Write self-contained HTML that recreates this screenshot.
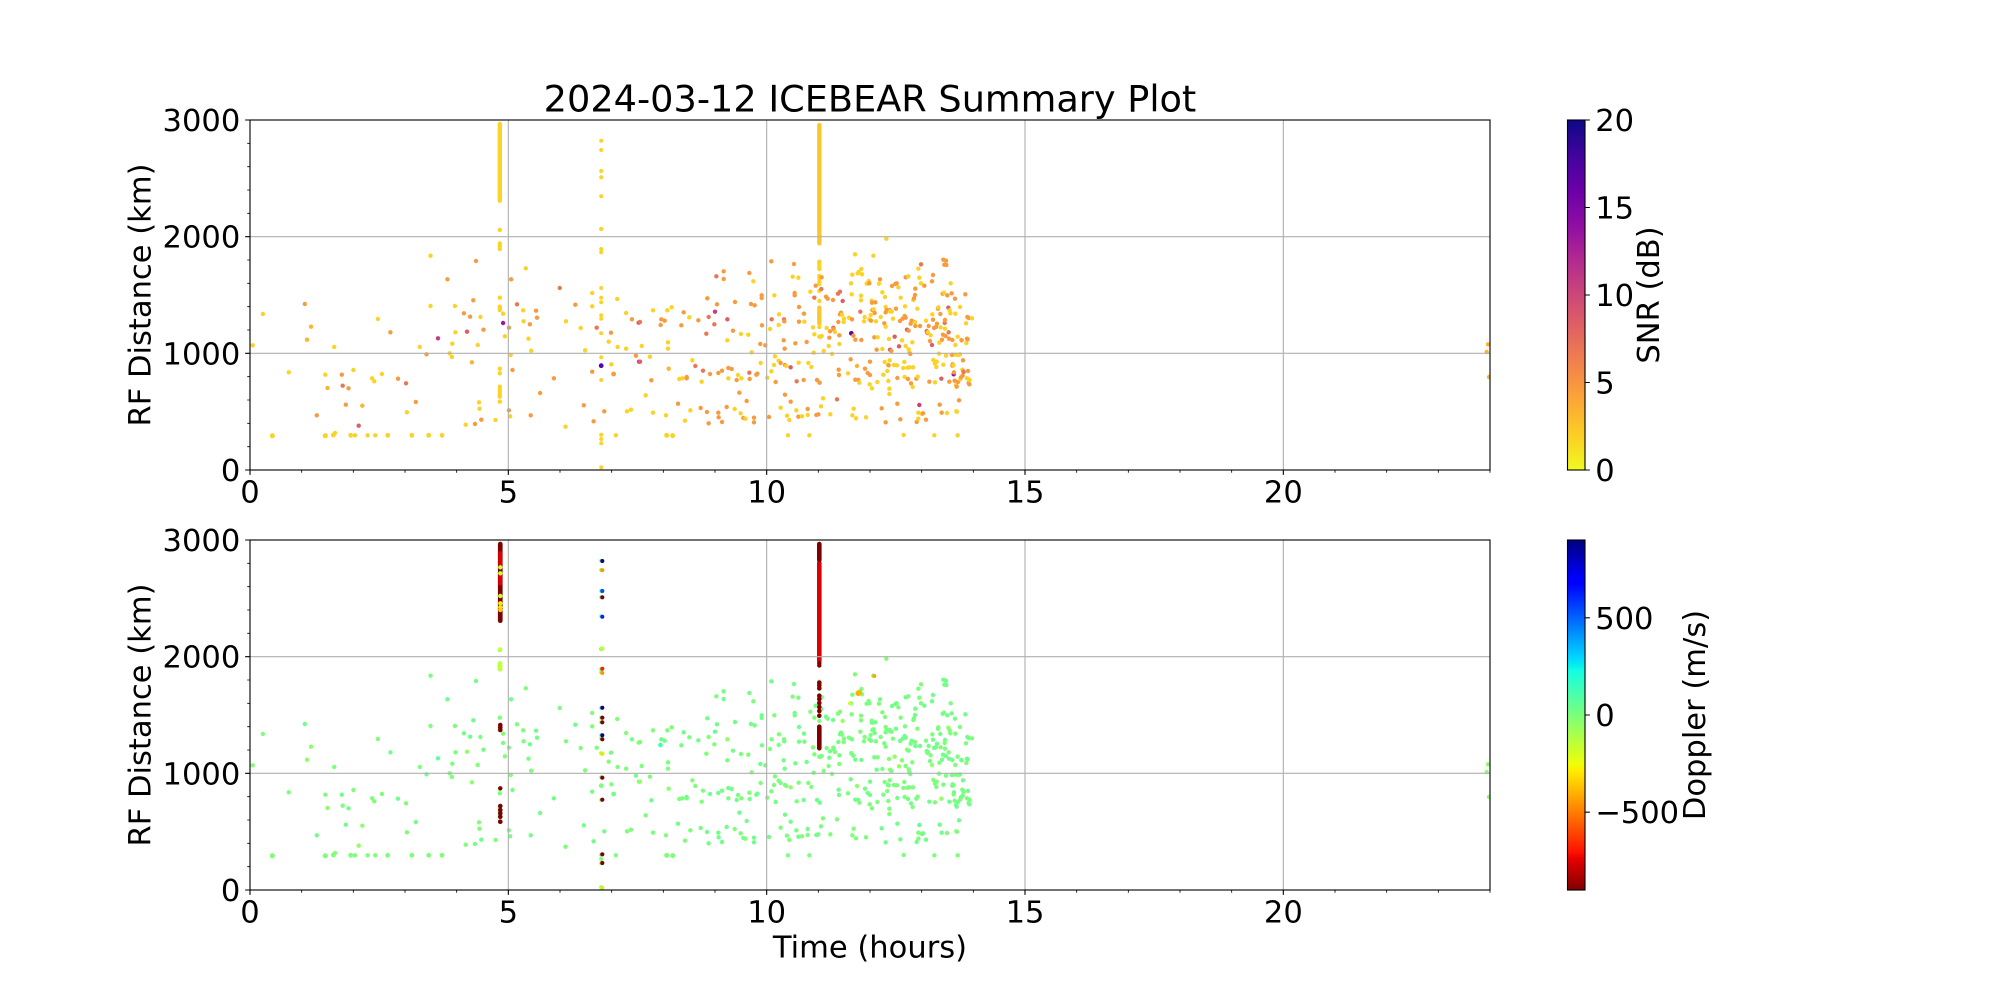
<!DOCTYPE html>
<html><head><meta charset="utf-8">
<style>
html,body{margin:0;padding:0;background:#fff;}
svg{display:block;}
svg text{font-family:"DejaVu Sans","Liberation Sans",sans-serif;fill:#000;}
.a{fill:var(--a)}.b{fill:var(--b)}.c{fill:var(--c)}.d{fill:var(--d)}
.e{fill:var(--e)}.f{fill:var(--f)}.g{fill:var(--g)}.h{fill:var(--h)}
.s{stroke:var(--s)}.t{stroke:var(--t)}
</style></head>
<body>
<svg width="2000" height="1000" viewBox="0 0 2000 1000" xmlns="http://www.w3.org/2000/svg">
<defs>
<clipPath id="c1"><rect x="250" y="120" width="1240" height="350"/></clipPath>
<clipPath id="c2"><rect x="250" y="540" width="1240" height="350"/></clipPath>
<linearGradient id="gp" x1="0" y1="0" x2="0" y2="1">
<stop offset="0" stop-color="#0d0887"/><stop offset="0.1" stop-color="#41049d"/><stop offset="0.2" stop-color="#6a00a8"/><stop offset="0.3" stop-color="#8f0da4"/><stop offset="0.4" stop-color="#b12a90"/><stop offset="0.5" stop-color="#cc4778"/><stop offset="0.6" stop-color="#e16462"/><stop offset="0.7" stop-color="#f2844b"/><stop offset="0.8" stop-color="#fca636"/><stop offset="0.9" stop-color="#fcce25"/><stop offset="1" stop-color="#f0f921"/>
</linearGradient>
<linearGradient id="gj" x1="0" y1="0" x2="0" y2="1">
<stop offset="0" stop-color="#000080"/><stop offset="0.11" stop-color="#0000ff"/><stop offset="0.125" stop-color="#0000ff"/><stop offset="0.34" stop-color="#00dbff"/><stop offset="0.35" stop-color="#00e6f7"/><stop offset="0.375" stop-color="#14ffe2"/><stop offset="0.5" stop-color="#7bff7b"/><stop offset="0.64" stop-color="#eeff08"/><stop offset="0.65" stop-color="#f7f500"/><stop offset="0.66" stop-color="#ffec00"/><stop offset="0.89" stop-color="#ff1300"/><stop offset="0.91" stop-color="#e80000"/><stop offset="1" stop-color="#800000"/>
</linearGradient>
<g id="pts">
<line class="t" x1="499.8" y1="124" x2="499.8" y2="200.7" stroke="#fcd225" stroke-width="4.4" stroke-linecap="round"/>
<circle cx="252.7" cy="345.3" r="2.2" class="a"/>
<circle cx="262.9" cy="314" r="2.2" class="a"/>
<circle cx="272.3" cy="435.7" r="2.6" class="a"/>
<circle cx="288.8" cy="372.3" r="2.2" class="a"/>
<circle cx="304.8" cy="304" r="2.2" class="c"/>
<circle cx="307" cy="339.7" r="2.2" class="b"/>
<circle cx="311" cy="326.7" r="2.2" class="b"/>
<circle cx="316.8" cy="415.3" r="2.2" class="c"/>
<circle cx="325.3" cy="374.7" r="2.2" class="a"/>
<circle cx="325.3" cy="435.7" r="2.6" class="a"/>
<circle cx="327.5" cy="388" r="2.2" class="b"/>
<circle cx="334.2" cy="347" r="2.2" class="a"/>
<circle cx="333.3" cy="435" r="2.4" class="a"/>
<circle cx="335" cy="433" r="2.2" class="a"/>
<circle cx="341.8" cy="374.7" r="2.2" class="c"/>
<circle cx="342.7" cy="385.7" r="2.2" class="d"/>
<circle cx="345.8" cy="404.7" r="2.2" class="c"/>
<circle cx="348.5" cy="388.3" r="2.2" class="c"/>
<circle cx="350.7" cy="435.3" r="2.4" class="a"/>
<circle cx="353.4" cy="370" r="2.2" class="a"/>
<circle cx="355" cy="435.3" r="2.2" class="a"/>
<circle cx="358.7" cy="425.7" r="2.2" class="e"/>
<circle cx="362.3" cy="405.7" r="2.2" class="b"/>
<circle cx="367.6" cy="435.3" r="2.2" class="a"/>
<circle cx="372.1" cy="378.3" r="2.2" class="a"/>
<circle cx="374.3" cy="381.3" r="2.2" class="a"/>
<circle cx="375.3" cy="435.3" r="2.2" class="a"/>
<circle cx="377.9" cy="319" r="2.2" class="a"/>
<circle cx="381.9" cy="374" r="2.2" class="a"/>
<circle cx="387.7" cy="435.3" r="2.4" class="a"/>
<circle cx="390.4" cy="332.3" r="2.2" class="c"/>
<circle cx="398" cy="378.7" r="2.2" class="c"/>
<circle cx="406" cy="383.3" r="2.2" class="d"/>
<circle cx="406.9" cy="412.3" r="2.2" class="a"/>
<circle cx="411.8" cy="435.3" r="2.4" class="a"/>
<circle cx="415.8" cy="402" r="2.2" class="c"/>
<circle cx="419.8" cy="347" r="2.2" class="a"/>
<circle cx="426.5" cy="354.3" r="2.2" class="c"/>
<circle cx="428.7" cy="435.3" r="2.4" class="a"/>
<circle cx="430.5" cy="255.7" r="2.2" class="a"/>
<circle cx="430.5" cy="306" r="2.2" class="a"/>
<circle cx="438" cy="338.3" r="2.2" class="f"/>
<circle cx="442" cy="435.3" r="2.4" class="a"/>
<circle cx="447.4" cy="279.3" r="2.2" class="c"/>
<circle cx="449.6" cy="353.3" r="2.2" class="a"/>
<circle cx="451.9" cy="357" r="2.2" class="a"/>
<circle cx="452.3" cy="343.7" r="2.2" class="a"/>
<circle cx="455" cy="306" r="2.2" class="a"/>
<circle cx="455.4" cy="332.3" r="2.2" class="a"/>
<circle cx="463.9" cy="313.3" r="2.2" class="c"/>
<circle cx="465.7" cy="424.7" r="2.2" class="a"/>
<circle cx="467" cy="331.7" r="2.2" class="e"/>
<circle cx="470.1" cy="316.7" r="2.2" class="c"/>
<circle cx="471.9" cy="362.3" r="2.2" class="b"/>
<circle cx="473.3" cy="300.3" r="2.2" class="c"/>
<circle cx="475" cy="424" r="2.2" class="c"/>
<circle cx="476" cy="261" r="2.2" class="c"/>
<circle cx="477.7" cy="345" r="2.2" class="a"/>
<circle cx="479" cy="402.3" r="2.2" class="a"/>
<circle cx="479.5" cy="408.7" r="2.2" class="a"/>
<circle cx="480.4" cy="317" r="2.2" class="a"/>
<circle cx="481.3" cy="419.7" r="2.2" class="c"/>
<circle cx="483.5" cy="329.7" r="2.2" class="c"/>
<circle cx="495.5" cy="420" r="2.2" class="a"/>
<circle cx="499.8" cy="230" r="2.2" class="a"/>
<circle cx="499.8" cy="243.5" r="2.2" class="a"/>
<circle cx="499.8" cy="246" r="2.2" class="a"/>
<circle cx="499.8" cy="249" r="2.2" class="a"/>
<circle cx="499.8" cy="297.7" r="2.2" class="a"/>
<circle cx="499.8" cy="306.7" r="2.2" class="a"/>
<circle cx="499.8" cy="308.5" r="2.2" class="a"/>
<circle cx="499.8" cy="310" r="2.2" class="a"/>
<circle cx="499.8" cy="368.7" r="2.2" class="a"/>
<circle cx="499.8" cy="373.3" r="2.2" class="a"/>
<circle cx="499.8" cy="386.7" r="2.2" class="a"/>
<circle cx="499.8" cy="389.5" r="2.2" class="a"/>
<circle cx="499.8" cy="392" r="2.2" class="a"/>
<circle cx="499.8" cy="394.5" r="2.2" class="a"/>
<circle cx="499.8" cy="396.7" r="2.2" class="a"/>
<circle cx="499.8" cy="401.7" r="2.2" class="a"/>
<circle cx="503.1" cy="313.7" r="2.2" class="a"/>
<circle cx="503.1" cy="323" r="2.2" class="g"/>
<circle cx="504.9" cy="336.3" r="2.2" class="a"/>
<circle cx="508.9" cy="327.7" r="2.2" class="c"/>
<circle cx="508.9" cy="410.3" r="2.2" class="c"/>
<circle cx="510.2" cy="416.3" r="2.2" class="a"/>
<circle cx="510.7" cy="355" r="2.2" class="a"/>
<circle cx="511.1" cy="279.3" r="2.2" class="c"/>
<circle cx="512.5" cy="370" r="2.2" class="c"/>
<circle cx="517" cy="304.3" r="2.2" class="d"/>
<circle cx="523.2" cy="310.3" r="2.2" class="a"/>
<circle cx="525.8" cy="268.3" r="2.2" class="a"/>
<circle cx="523.6" cy="321.3" r="2.2" class="a"/>
<circle cx="528.5" cy="338.7" r="2.2" class="a"/>
<circle cx="529.9" cy="324.3" r="2.2" class="c"/>
<circle cx="530.7" cy="415.3" r="2.2" class="c"/>
<circle cx="531.2" cy="350.7" r="2.2" class="a"/>
<circle cx="536.1" cy="310.7" r="2.2" class="c"/>
<circle cx="537" cy="317.7" r="2.2" class="c"/>
<circle cx="540.1" cy="393" r="2.2" class="c"/>
<circle cx="553.9" cy="378.3" r="2.2" class="c"/>
<circle cx="559.7" cy="288" r="2.2" class="d"/>
<circle cx="565.5" cy="426.7" r="2.2" class="a"/>
<circle cx="566" cy="321.3" r="2.2" class="a"/>
<circle cx="575.3" cy="304.7" r="2.2" class="c"/>
<circle cx="580.7" cy="328" r="2.2" class="a"/>
<circle cx="583.8" cy="405.3" r="2.2" class="c"/>
<circle cx="585.1" cy="350.3" r="2.2" class="a"/>
<circle cx="592.2" cy="293" r="2.2" class="a"/>
<circle cx="592.2" cy="306.3" r="2.2" class="a"/>
<circle cx="592.2" cy="371.7" r="2.2" class="c"/>
<circle cx="593.6" cy="421.3" r="2.2" class="c"/>
<circle cx="596.7" cy="327.7" r="2.2" class="d"/>
<circle cx="601.2" cy="140.7" r="2" class="a"/>
<circle cx="601.2" cy="150" r="2" class="a"/>
<circle cx="601.2" cy="171" r="2" class="a"/>
<circle cx="601.2" cy="177.3" r="2" class="a"/>
<circle cx="601.2" cy="196.3" r="2" class="a"/>
<circle cx="601.2" cy="229" r="2.2" class="a"/>
<circle cx="601.2" cy="249" r="2" class="a"/>
<circle cx="601.2" cy="252.3" r="2" class="a"/>
<circle cx="601.2" cy="288" r="2" class="a"/>
<circle cx="601.2" cy="297.7" r="2" class="a"/>
<circle cx="601.2" cy="302.3" r="2" class="a"/>
<circle cx="601.2" cy="315.3" r="2" class="a"/>
<circle cx="601.2" cy="318.7" r="2" class="a"/>
<circle cx="601.2" cy="333.3" r="2" class="a"/>
<circle cx="601.2" cy="357.3" r="2" class="a"/>
<circle cx="601.2" cy="365.7" r="2.4" class="h"/>
<circle cx="601.2" cy="380" r="2" class="a"/>
<circle cx="601.2" cy="434.7" r="2" class="a"/>
<circle cx="601.2" cy="439" r="2" class="a"/>
<circle cx="601.2" cy="443.3" r="2" class="a"/>
<circle cx="601.2" cy="467.3" r="2" class="a"/>
<circle cx="604.3" cy="411.3" r="2.2" class="c"/>
<circle cx="608.7" cy="341.7" r="2.2" class="a"/>
<circle cx="611" cy="332.7" r="2.2" class="c"/>
<circle cx="611.4" cy="364.3" r="2.2" class="a"/>
<circle cx="613.6" cy="374" r="2.4" class="c"/>
<circle cx="615.9" cy="435.3" r="2.2" class="a"/>
<circle cx="617.2" cy="299" r="2.2" class="a"/>
<circle cx="617.6" cy="347" r="2.2" class="a"/>
<circle cx="626.1" cy="313" r="2.2" class="a"/>
<circle cx="626.1" cy="348.7" r="2.2" class="a"/>
<circle cx="627" cy="411.3" r="2.2" class="a"/>
<circle cx="631" cy="409.7" r="2.2" class="a"/>
<circle cx="631.9" cy="319.3" r="2.2" class="c"/>
<circle cx="635.9" cy="355.7" r="2.2" class="c"/>
<circle cx="638.6" cy="322.7" r="2.2" class="e"/>
<circle cx="639" cy="361.7" r="2.2" class="f"/>
<circle cx="1488" cy="344.3" r="2.2" class="b"/>
<circle cx="1486.7" cy="352" r="2.2" class="b"/>
<circle cx="1489" cy="377" r="2.2" class="b"/>
<g transform="translate(640 110) scale(0.333333)">
<line class="s" x1="538" y1="45" x2="538" y2="400" stroke="#fcc62a" stroke-width="13" stroke-linecap="round"/>
<line class="s" x1="538" y1="593" x2="538" y2="640" stroke="#fcc62a" stroke-width="13" stroke-linecap="round"/>
<circle cx="538" cy="455" r="6.6" class="a"/><circle cx="538" cy="462" r="6.6" class="a"/><circle cx="538" cy="471" r="6.6" class="a"/><circle cx="538" cy="477" r="6.6" class="a"/><circle cx="538" cy="498" r="6.6" class="a"/><circle cx="538" cy="505" r="6.6" class="a"/><circle cx="538" cy="515" r="6.6" class="a"/><circle cx="538" cy="522" r="6.6" class="a"/><circle cx="538" cy="543" r="6.6" class="a"/><circle cx="538" cy="573" r="6.6" class="a"/><circle cx="538" cy="651" r="6.6" class="a"/><circle cx="538" cy="680" r="6.6" class="a"/>
<circle cx="0" cy="636" r="6.6" class="d"/><circle cx="0" cy="755" r="6.6" class="e"/><circle cx="5" cy="708" r="6.6" class="a"/><circle cx="17" cy="856" r="6.6" class="a"/><circle cx="30" cy="740" r="6.6" class="a"/><circle cx="34" cy="811" r="6.6" class="c"/><circle cx="39" cy="601" r="6.6" class="a"/><circle cx="39" cy="908" r="6.6" class="a"/><circle cx="62" cy="645" r="6.6" class="c"/><circle cx="64" cy="628" r="6.6" class="c"/><circle cx="74" cy="632" r="6.6" class="c"/><circle cx="78" cy="916" r="6.6" class="a"/><circle cx="80" cy="976" r="7.5" class="a"/><circle cx="82" cy="601" r="6.6" class="a"/><circle cx="84" cy="697" r="6.6" class="a"/><circle cx="84" cy="716" r="6.6" class="a"/><circle cx="86" cy="776" r="6.6" class="b"/><circle cx="95" cy="592" r="6.6" class="a"/><circle cx="98" cy="977" r="7.5" class="a"/>
<circle cx="114" cy="881" r="6.6" class="c"/><circle cx="118" cy="807" r="6.6" class="a"/><circle cx="124" cy="646" r="6.6" class="c"/><circle cx="127" cy="805" r="6.6" class="a"/><circle cx="131" cy="607" r="6.6" class="c"/><circle cx="135" cy="932" r="6.6" class="a"/><circle cx="140" cy="801" r="6.6" class="c"/><circle cx="140" cy="805" r="6.6" class="c"/><circle cx="148" cy="622" r="6.6" class="a"/><circle cx="151" cy="901" r="6.6" class="a"/><circle cx="157" cy="751" r="6.6" class="a"/><circle cx="166" cy="768" r="6.6" class="d"/><circle cx="175" cy="631" r="6.6" class="c"/><circle cx="182" cy="894" r="6.6" class="c"/><circle cx="185" cy="815" r="6.6" class="a"/><circle cx="189" cy="782" r="6.6" class="d"/><circle cx="199" cy="671" r="6.6" class="d"/>
<circle cx="201" cy="906" r="6.6" class="c"/><circle cx="202" cy="565" r="6.6" class="c"/><circle cx="206" cy="621" r="6.6" class="d"/><circle cx="206" cy="940" r="6.6" class="c"/><circle cx="210" cy="792" r="6.6" class="c"/><circle cx="223" cy="643" r="6.6" class="d"/><circle cx="225" cy="605" r="6.6" class="f"/><circle cx="229" cy="499" r="6.6" class="d"/><circle cx="231" cy="583" r="6.6" class="c"/><circle cx="235" cy="789" r="6.6" class="c"/><circle cx="235" cy="908" r="6.6" class="c"/><circle cx="236" cy="922" r="6.6" class="c"/><circle cx="246" cy="782" r="6.6" class="c"/><circle cx="246" cy="936" r="6.6" class="c"/><circle cx="251" cy="484" r="6.6" class="c"/><circle cx="251" cy="507" r="6.6" class="c"/><circle cx="260" cy="891" r="6.6" class="c"/><circle cx="262" cy="628" r="6.6" class="e"/><circle cx="262" cy="691" r="6.6" class="a"/><circle cx="265" cy="774" r="6.6" class="c"/><circle cx="265" cy="805" r="6.6" class="a"/><circle cx="275" cy="777" r="6.6" class="c"/><circle cx="279" cy="662" r="6.6" class="c"/><circle cx="284" cy="897" r="6.6" class="a"/><circle cx="285" cy="576" r="6.6" class="c"/><circle cx="290" cy="810" r="6.6" class="c"/><circle cx="294" cy="795" r="6.6" class="a"/><circle cx="298" cy="848" r="6.6" class="c"/>
<circle cx="302" cy="910" r="6.6" class="a"/><circle cx="303" cy="672" r="6.6" class="a"/><circle cx="304" cy="805" r="6.6" class="a"/><circle cx="310" cy="924" r="6.6" class="c"/><circle cx="316" cy="926" r="6.6" class="a"/><circle cx="320" cy="873" r="6.6" class="c"/><circle cx="325" cy="674" r="6.6" class="a"/><circle cx="328" cy="489" r="6.6" class="c"/><circle cx="328" cy="788" r="6.6" class="d"/><circle cx="329" cy="807" r="6.6" class="c"/><circle cx="333" cy="582" r="6.6" class="c"/><circle cx="335" cy="727" r="6.6" class="a"/><circle cx="340" cy="514" r="6.6" class="a"/><circle cx="342" cy="923" r="6.6" class="c"/><circle cx="342" cy="937" r="6.6" class="c"/><circle cx="344" cy="586" r="6.6" class="c"/><circle cx="349" cy="794" r="6.6" class="c"/><circle cx="352" cy="791" r="6.6" class="c"/><circle cx="361" cy="702" r="6.6" class="c"/><circle cx="362" cy="759" r="6.6" class="a"/><circle cx="365" cy="556" r="6.6" class="c"/><circle cx="365" cy="564" r="6.6" class="c"/><circle cx="366" cy="646" r="6.6" class="c"/><circle cx="376" cy="706" r="6.6" class="c"/><circle cx="382" cy="803" r="6.6" class="a"/><circle cx="387" cy="921" r="6.6" class="c"/><circle cx="390" cy="657" r="6.6" class="a"/><circle cx="394" cy="454" r="6.6" class="c"/><circle cx="394" cy="784" r="6.6" class="a"/><circle cx="395" cy="628" r="6.6" class="d"/>
<circle cx="402" cy="765" r="6.6" class="a"/><circle cx="403" cy="556" r="6.6" class="a"/><circle cx="405" cy="739" r="6.6" class="a"/><circle cx="407" cy="816" r="6.6" class="c"/><circle cx="416" cy="752" r="6.6" class="a"/><circle cx="416" cy="645" r="6.6" class="a"/><circle cx="417" cy="613" r="6.6" class="a"/><circle cx="422" cy="759" r="6.6" class="c"/><circle cx="422" cy="893" r="6.6" class="a"/><circle cx="431" cy="691" r="6.6" class="c"/><circle cx="432" cy="628" r="6.6" class="d"/><circle cx="433" cy="634" r="6.6" class="c"/><circle cx="434" cy="716" r="6.6" class="c"/><circle cx="435" cy="765" r="6.6" class="c"/><circle cx="435" cy="854" r="6.6" class="c"/><circle cx="439" cy="768" r="6.6" class="a"/><circle cx="441" cy="917" r="6.6" class="a"/><circle cx="444" cy="976" r="6.6" class="a"/><circle cx="448" cy="930" r="6.6" class="a"/><circle cx="452" cy="772" r="6.6" class="e"/><circle cx="452" cy="875" r="6.6" class="c"/><circle cx="458" cy="500" r="6.6" class="a"/><circle cx="462" cy="462" r="6.6" class="c"/><circle cx="464" cy="549" r="6.6" class="c"/><circle cx="464" cy="556" r="6.6" class="c"/><circle cx="466" cy="700" r="6.6" class="c"/><circle cx="469" cy="901" r="6.6" class="a"/><circle cx="470" cy="814" r="6.6" class="d"/><circle cx="475" cy="503" r="6.6" class="a"/><circle cx="475" cy="920" r="6.6" class="c"/><circle cx="476" cy="758" r="6.6" class="a"/><circle cx="477" cy="591" r="6.6" class="c"/><circle cx="477" cy="635" r="6.6" class="c"/><circle cx="486" cy="919" r="6.6" class="a"/><circle cx="491" cy="810" r="6.6" class="c"/><circle cx="492" cy="611" r="6.6" class="c"/><circle cx="493" cy="635" r="6.6" class="a"/>
<circle cx="500" cy="696" r="6.6" class="c"/><circle cx="503" cy="915" r="6.6" class="a"/><circle cx="503" cy="897" r="6.6" class="c"/><circle cx="505" cy="759" r="6.6" class="a"/><circle cx="508" cy="976" r="6.6" class="a"/><circle cx="511" cy="545" r="6.6" class="a"/><circle cx="514" cy="771" r="6.6" class="a"/><circle cx="519" cy="652" r="6.6" class="a"/><circle cx="521" cy="728" r="6.6" class="a"/><circle cx="523" cy="563" r="6.6" class="d"/><circle cx="523" cy="673" r="6.6" class="a"/><circle cx="527" cy="527" r="6.6" class="c"/><circle cx="529" cy="915" r="6.6" class="c"/><circle cx="531" cy="810" r="6.6" class="c"/><circle cx="535" cy="913" r="6.6" class="c"/><circle cx="544" cy="537" r="6.6" class="d"/><circle cx="539" cy="818" r="6.6" class="c"/><circle cx="541" cy="681" r="6.6" class="a"/><circle cx="543" cy="889" r="6.6" class="a"/><circle cx="545" cy="502" r="6.6" class="c"/><circle cx="545" cy="678" r="6.6" class="a"/><circle cx="549" cy="865" r="6.6" class="a"/><circle cx="551" cy="723" r="6.6" class="a"/><circle cx="558" cy="560" r="6.6" class="c"/><circle cx="560" cy="654" r="6.6" class="a"/><circle cx="563" cy="566" r="6.6" class="c"/><circle cx="566" cy="708" r="6.6" class="a"/><circle cx="568" cy="683" r="6.6" class="c"/><circle cx="570" cy="664" r="6.6" class="c"/><circle cx="571" cy="913" r="6.6" class="a"/><circle cx="576" cy="732" r="6.6" class="a"/><circle cx="579" cy="570" r="6.6" class="c"/><circle cx="580" cy="653" r="6.6" class="d"/><circle cx="581" cy="658" r="6.6" class="c"/><circle cx="585" cy="666" r="6.6" class="a"/><circle cx="591" cy="868" r="6.6" class="d"/><circle cx="594" cy="551" r="6.6" class="d"/><circle cx="595" cy="636" r="6.6" class="c"/><circle cx="596" cy="779" r="6.6" class="c"/><circle cx="597" cy="795" r="6.6" class="c"/><circle cx="598" cy="676" r="6.6" class="c"/><circle cx="598" cy="702" r="6.6" class="a"/>
<circle cx="600" cy="545" r="6.6" class="d"/><circle cx="600" cy="613" r="6.6" class="c"/><circle cx="603" cy="608" r="6.6" class="c"/><circle cx="606" cy="614" r="6.6" class="a"/><circle cx="608" cy="573" r="6.6" class="e"/><circle cx="611" cy="636" r="6.6" class="a"/><circle cx="612" cy="626" r="6.6" class="a"/><circle cx="624" cy="790" r="6.6" class="a"/><circle cx="627" cy="623" r="6.6" class="a"/><circle cx="632" cy="748" r="6.6" class="c"/><circle cx="633" cy="520" r="6.6" class="a"/><circle cx="634" cy="670" r="7" class="h"/><circle cx="635" cy="553" r="6.6" class="a"/><circle cx="636" cy="628" r="6.6" class="c"/><circle cx="637" cy="916" r="6.6" class="a"/><circle cx="637" cy="494" r="6.6" class="a"/><circle cx="640" cy="677" r="6.6" class="c"/><circle cx="641" cy="896" r="6.6" class="a"/><circle cx="645" cy="433" r="6.6" class="a"/><circle cx="646" cy="689" r="6.6" class="c"/><circle cx="646" cy="809" r="6.6" class="c"/><circle cx="648" cy="925" r="6.6" class="a"/><circle cx="651" cy="768" r="6.6" class="b"/><circle cx="653" cy="490" r="6.6" class="a"/><circle cx="655" cy="810" r="6.6" class="c"/><circle cx="656" cy="486" r="6.6" class="a"/><circle cx="658" cy="818" r="6.6" class="a"/><circle cx="661" cy="605" r="6.6" class="d"/><circle cx="663" cy="557" r="6.6" class="a"/><circle cx="663" cy="571" r="6.6" class="a"/><circle cx="664" cy="477" r="6.6" class="a"/><circle cx="664" cy="690" r="6.6" class="c"/><circle cx="666" cy="493" r="6.6" class="a"/><circle cx="672" cy="634" r="6.6" class="a"/><circle cx="674" cy="621" r="6.6" class="a"/><circle cx="675" cy="776" r="6.6" class="c"/><circle cx="678" cy="922" r="6.6" class="a"/><circle cx="680" cy="521" r="6.6" class="a"/><circle cx="683" cy="789" r="6.6" class="c"/><circle cx="686" cy="513" r="6.6" class="a"/><circle cx="688" cy="520" r="6.6" class="c"/><circle cx="688" cy="628" r="6.6" class="a"/><circle cx="689" cy="823" r="6.6" class="a"/><circle cx="690" cy="795" r="6.6" class="c"/><circle cx="690" cy="755" r="6.6" class="c"/><circle cx="692" cy="615" r="6.6" class="a"/><circle cx="693" cy="632" r="6.6" class="c"/><circle cx="695" cy="572" r="6.6" class="a"/><circle cx="696" cy="578" r="6.6" class="c"/><circle cx="696" cy="835" r="6.6" class="a"/><circle cx="697" cy="600" r="6.6" class="c"/>
<circle cx="700" cy="437" r="6.6" class="a"/><circle cx="701" cy="598" r="6.6" class="a"/><circle cx="703" cy="682" r="6.6" class="c"/><circle cx="704" cy="609" r="6.6" class="c"/><circle cx="706" cy="577" r="6.6" class="c"/><circle cx="708" cy="634" r="6.6" class="a"/><circle cx="710" cy="719" r="6.6" class="c"/><circle cx="712" cy="816" r="6.6" class="a"/><circle cx="713" cy="682" r="6.6" class="a"/><circle cx="717" cy="521" r="6.6" class="a"/><circle cx="720" cy="508" r="6.6" class="c"/><circle cx="722" cy="621" r="6.6" class="a"/><circle cx="725" cy="895" r="6.6" class="c"/><circle cx="727" cy="547" r="6.6" class="a"/><circle cx="727" cy="717" r="6.6" class="a"/><circle cx="730" cy="794" r="6.6" class="a"/><circle cx="733" cy="640" r="6.6" class="c"/><circle cx="734" cy="756" r="6.6" class="a"/><circle cx="735" cy="561" r="6.6" class="a"/><circle cx="737" cy="937" r="6.6" class="c"/><circle cx="737" cy="591" r="6.6" class="a"/><circle cx="737" cy="650" r="6.6" class="a"/><circle cx="737" cy="607" r="6.6" class="c"/><circle cx="739" cy="386" r="6.6" class="a"/><circle cx="740" cy="600" r="6.6" class="c"/><circle cx="742" cy="783" r="6.6" class="a"/><circle cx="744" cy="765" r="6.6" class="a"/><circle cx="745" cy="813" r="6.6" class="a"/><circle cx="746" cy="766" r="6.6" class="c"/><circle cx="747" cy="687" r="6.6" class="a"/><circle cx="748" cy="836" r="6.6" class="a"/><circle cx="748" cy="852" r="6.6" class="a"/><circle cx="749" cy="600" r="6.6" class="c"/><circle cx="749" cy="751" r="6.6" class="a"/><circle cx="750" cy="719" r="6.6" class="e"/><circle cx="750" cy="604" r="6.6" class="a"/><circle cx="754" cy="723" r="6.6" class="c"/><circle cx="755" cy="605" r="6.6" class="a"/><circle cx="756" cy="528" r="6.6" class="c"/><circle cx="759" cy="626" r="6.6" class="a"/><circle cx="762" cy="765" r="6.6" class="a"/><circle cx="764" cy="680" r="6.6" class="e"/><circle cx="766" cy="522" r="6.6" class="c"/><circle cx="768" cy="596" r="6.6" class="c"/><circle cx="770" cy="520" r="6.6" class="c"/><circle cx="771" cy="766" r="6.6" class="a"/><circle cx="772" cy="881" r="6.6" class="c"/><circle cx="772" cy="804" r="6.6" class="c"/><circle cx="775" cy="532" r="6.6" class="a"/><circle cx="777" cy="709" r="6.6" class="e"/><circle cx="780" cy="633" r="6.6" class="c"/><circle cx="781" cy="928" r="6.6" class="c"/><circle cx="782" cy="563" r="6.6" class="a"/><circle cx="786" cy="691" r="6.6" class="a"/><circle cx="788" cy="626" r="6.6" class="c"/><circle cx="790" cy="774" r="6.6" class="a"/><circle cx="791" cy="975" r="6.6" class="a"/><circle cx="793" cy="756" r="6.6" class="a"/><circle cx="794" cy="801" r="6.6" class="a"/><circle cx="794" cy="618" r="6.6" class="c"/><circle cx="795" cy="589" r="6.6" class="a"/><circle cx="797" cy="623" r="6.6" class="c"/><circle cx="797" cy="708" r="6.6" class="a"/><circle cx="797" cy="502" r="6.6" class="c"/>
<circle cx="801" cy="659" r="6.6" class="e"/><circle cx="803" cy="773" r="6.6" class="a"/><circle cx="804" cy="807" r="6.6" class="c"/><circle cx="805" cy="499" r="6.6" class="a"/><circle cx="806" cy="718" r="6.6" class="a"/><circle cx="806" cy="662" r="6.6" class="c"/><circle cx="808" cy="727" r="6.6" class="a"/><circle cx="808" cy="772" r="6.6" class="a"/><circle cx="811" cy="732" r="6.6" class="c"/><circle cx="812" cy="641" r="6.6" class="c"/><circle cx="813" cy="820" r="6.6" class="c"/><circle cx="815" cy="632" r="6.6" class="c"/><circle cx="817" cy="697" r="6.6" class="a"/><circle cx="818" cy="831" r="6.6" class="a"/><circle cx="819" cy="772" r="6.6" class="a"/><circle cx="820" cy="570" r="6.6" class="a"/><circle cx="822" cy="565" r="6.6" class="c"/><circle cx="825" cy="636" r="6.6" class="a"/><circle cx="825" cy="555" r="6.6" class="c"/><circle cx="826" cy="648" r="6.6" class="c"/><circle cx="826" cy="536" r="6.6" class="c"/><circle cx="829" cy="806" r="6.6" class="c"/><circle cx="830" cy="936" r="6.6" class="c"/><circle cx="832" cy="596" r="6.6" class="a"/><circle cx="833" cy="800" r="6.6" class="a"/><circle cx="835" cy="908" r="6.6" class="a"/><circle cx="835" cy="926" r="6.6" class="a"/><circle cx="835" cy="476" r="6.6" class="a"/><circle cx="838" cy="885" r="6.6" class="f"/><circle cx="838" cy="503" r="6.6" class="a"/><circle cx="840" cy="648" r="6.6" class="c"/><circle cx="843" cy="463" r="6.6" class="d"/><circle cx="843" cy="520" r="6.6" class="a"/><circle cx="846" cy="912" r="6.6" class="a"/><circle cx="849" cy="910" r="6.6" class="c"/><circle cx="853" cy="527" r="6.6" class="c"/><circle cx="858" cy="929" r="6.6" class="c"/><circle cx="858" cy="632" r="6.6" class="a"/><circle cx="860" cy="663" r="6.6" class="d"/><circle cx="862" cy="669" r="6.6" class="d"/><circle cx="864" cy="667" r="6.6" class="a"/><circle cx="866" cy="648" r="6.6" class="c"/><circle cx="868" cy="815" r="6.6" class="c"/><circle cx="870" cy="693" r="6.6" class="c"/><circle cx="872" cy="676" r="6.6" class="a"/><circle cx="876" cy="514" r="6.6" class="c"/><circle cx="876" cy="705" r="6.6" class="e"/><circle cx="877" cy="613" r="6.6" class="a"/><circle cx="879" cy="495" r="6.6" class="c"/><circle cx="879" cy="629" r="6.6" class="c"/><circle cx="880" cy="750" r="6.6" class="a"/><circle cx="882" cy="654" r="6.6" class="c"/><circle cx="883" cy="976" r="6.6" class="a"/><circle cx="885" cy="817" r="6.6" class="a"/><circle cx="885" cy="761" r="6.6" class="a"/><circle cx="888" cy="651" r="6.6" class="c"/><circle cx="889" cy="771" r="6.6" class="a"/><circle cx="890" cy="755" r="6.6" class="a"/><circle cx="891" cy="641" r="6.6" class="c"/><circle cx="894" cy="596" r="6.6" class="c"/><circle cx="895" cy="592" r="6.6" class="a"/><circle cx="897" cy="731" r="6.6" class="a"/><circle cx="898" cy="698" r="6.6" class="a"/><circle cx="899" cy="884" r="6.6" class="c"/>
<circle cx="901" cy="612" r="6.6" class="c"/><circle cx="902" cy="652" r="6.6" class="a"/><circle cx="904" cy="806" r="6.6" class="e"/><circle cx="905" cy="908" r="6.6" class="c"/><circle cx="906" cy="689" r="6.6" class="c"/><circle cx="908" cy="551" r="6.6" class="c"/><circle cx="909" cy="674" r="6.6" class="c"/><circle cx="910" cy="764" r="6.6" class="a"/><circle cx="910" cy="449" r="6.6" class="c"/><circle cx="912" cy="548" r="6.6" class="a"/><circle cx="913" cy="464" r="6.6" class="c"/><circle cx="914" cy="639" r="6.6" class="d"/><circle cx="915" cy="656" r="6.6" class="a"/><circle cx="915" cy="630" r="6.6" class="c"/><circle cx="917" cy="678" r="6.6" class="c"/><circle cx="918" cy="452" r="6.6" class="c"/><circle cx="918" cy="737" r="6.6" class="a"/><circle cx="919" cy="465" r="6.6" class="c"/><circle cx="921" cy="909" r="6.6" class="a"/><circle cx="922" cy="556" r="6.6" class="c"/><circle cx="925" cy="593" r="6.6" class="e"/><circle cx="926" cy="667" r="6.6" class="d"/><circle cx="927" cy="686" r="6.6" class="c"/><circle cx="928" cy="815" r="6.6" class="c"/><circle cx="929" cy="601" r="6.6" class="a"/><circle cx="931" cy="610" r="6.6" class="a"/><circle cx="932" cy="520" r="6.6" class="a"/><circle cx="935" cy="550" r="6.6" class="c"/><circle cx="935" cy="735" r="6.6" class="a"/><circle cx="937" cy="690" r="6.6" class="c"/><circle cx="937" cy="734" r="6.6" class="c"/><circle cx="937" cy="767" r="6.6" class="c"/><circle cx="938" cy="763" r="6.6" class="c"/><circle cx="940" cy="766" r="6.6" class="a"/><circle cx="941" cy="793" r="6.6" class="g"/><circle cx="942" cy="787" r="6.6" class="c"/><circle cx="944" cy="812" r="6.6" class="c"/><circle cx="945" cy="566" r="6.6" class="c"/><circle cx="946" cy="611" r="6.6" class="a"/><circle cx="946" cy="705" r="6.6" class="a"/><circle cx="947" cy="734" r="6.6" class="a"/><circle cx="948" cy="825" r="6.6" class="a"/><circle cx="949" cy="904" r="6.6" class="a"/><circle cx="950" cy="830" r="6.6" class="c"/><circle cx="951" cy="905" r="6.6" class="a"/><circle cx="953" cy="976" r="6.6" class="a"/><circle cx="953" cy="680" r="6.6" class="a"/><circle cx="954" cy="816" r="6.6" class="c"/><circle cx="955" cy="735" r="6.6" class="a"/><circle cx="957" cy="871" r="6.6" class="c"/><circle cx="960" cy="591" r="6.6" class="a"/><circle cx="960" cy="733" r="6.6" class="a"/><circle cx="961" cy="808" r="6.6" class="a"/><circle cx="963" cy="802" r="6.6" class="c"/><circle cx="964" cy="690" r="6.6" class="a"/><circle cx="965" cy="691" r="6.6" class="c"/><circle cx="967" cy="779" r="6.6" class="a"/><circle cx="968" cy="797" r="6.6" class="c"/><circle cx="969" cy="751" r="6.6" class="c"/><circle cx="970" cy="784" r="6.6" class="c"/><circle cx="971" cy="786" r="6.6" class="d"/><circle cx="976" cy="553" r="6.6" class="c"/><circle cx="978" cy="640" r="6.6" class="a"/><circle cx="979" cy="699" r="6.6" class="a"/><circle cx="981" cy="686" r="6.6" class="c"/><circle cx="981" cy="805" r="6.6" class="a"/><circle cx="982" cy="621" r="6.6" class="c"/><circle cx="983" cy="688" r="6.6" class="c"/><circle cx="984" cy="783" r="6.6" class="c"/><circle cx="986" cy="819" r="6.6" class="c"/><circle cx="986" cy="624" r="6.6" class="c"/><circle cx="988" cy="823" r="6.6" class="c"/><circle cx="989" cy="810" r="6.6" class="a"/><circle cx="996" cy="625" r="6.6" class="a"/>
</g>
</g>
</defs>

<rect x="0" y="0" width="2000" height="1000" fill="#ffffff"/>

<!-- TOP AXES -->
<g clip-path="url(#c1)">
<use href="#pts" fill="#fcd225" style="--a:#fcd225;--b:#fdb42f;--c:#f89a3e;--d:#ea7656;--e:#dc5d68;--f:#c23f80;--g:#9c179e;--h:#5c01a6;--s:#fcc62a;--t:#fcd524"/>
</g>
<path d="M508.33 120V470M766.67 120V470M1025 120V470M1283.33 120V470M250 236.67H1490M250 353.33H1490" stroke="#b0b0b0" stroke-width="1.11" fill="none"/>
<rect x="250" y="120" width="1240" height="350" fill="none" stroke="#000" stroke-width="1.11"/>
<path d="M245.14 120h4.86M245.14 236.67h4.86M245.14 353.33h4.86M245.14 470h4.86M250 470v4.86M508.33 470v4.86M766.67 470v4.86M1025 470v4.86M1283.33 470v4.86" stroke="#000" stroke-width="1.11" fill="none"/>
<path d="M247.22 446.67h2.78M247.22 423.33h2.78M247.22 400h2.78M247.22 376.67h2.78M247.22 330h2.78M247.22 306.67h2.78M247.22 283.33h2.78M247.22 260h2.78M247.22 213.33h2.78M247.22 190h2.78M247.22 166.67h2.78M247.22 143.33h2.78M301.67 470v2.78M353.33 470v2.78M405 470v2.78M456.67 470v2.78M560 470v2.78M611.67 470v2.78M663.33 470v2.78M715 470v2.78M818.33 470v2.78M870 470v2.78M921.67 470v2.78M973.33 470v2.78M1076.67 470v2.78M1128.33 470v2.78M1180 470v2.78M1231.67 470v2.78M1335 470v2.78M1386.67 470v2.78M1438.33 470v2.78M1490 470v2.78" stroke="#000" stroke-width="0.83" fill="none"/>
<g font-size="30.56" text-anchor="end">
<text x="240.3" y="481">0</text><text x="240.3" y="364.3">1000</text><text x="240.3" y="247.7">2000</text><text x="240.3" y="131">3000</text>
</g>
<g font-size="30.56" text-anchor="middle">
<text x="250" y="502.5">0</text><text x="508.33" y="502.5">5</text><text x="766.67" y="502.5">10</text><text x="1025" y="502.5">15</text><text x="1283.33" y="502.5">20</text>
</g>
<text font-size="30.56" text-anchor="middle" transform="translate(150.5 295) rotate(-90)">RF Distance (km)</text>
<text font-size="36.67" text-anchor="middle" x="870" y="111.7">2024-03-12 ICEBEAR Summary Plot</text>

<!-- TOP COLORBAR -->
<rect x="1567.5" y="120" width="17.5" height="350" fill="url(#gp)" stroke="#000" stroke-width="1.11"/>
<path d="M1585 470h4.86M1585 382.5h4.86M1585 295h4.86M1585 207.5h4.86M1585 120h4.86" stroke="#000" stroke-width="1.11"/>
<g font-size="30.56">
<text x="1595.2" y="481">0</text><text x="1595.2" y="393.5">5</text><text x="1595.2" y="306">10</text><text x="1595.2" y="218.5">15</text><text x="1595.2" y="131">20</text>
</g>
<text font-size="30.56" text-anchor="middle" transform="translate(1659 295) rotate(-90)">SNR (dB)</text>

<!-- BOTTOM AXES -->
<g clip-path="url(#c2)">
<use href="#pts" transform="translate(0 420)" fill="#7dff7a" style="--a:#7dff7a;--b:#8cff6b;--c:#72ff88;--d:#7dff7a;--e:#94ff62;--f:#62ff98;--g:#7dff7a;--h:#7dff7a;--s:#7dff7a;--t:#7dff7a"/>
<!-- 4.85 h column -->
<line x1="500.3" y1="544" x2="500.3" y2="620.7" stroke="#800000" stroke-width="4.6" stroke-linecap="round"/>
<g fill="#e00000"><circle cx="500.3" cy="553.3" r="2.2"/><circle cx="500.3" cy="556.7" r="2.2"/><circle cx="500.3" cy="560" r="2.2"/><circle cx="500.3" cy="563.3" r="2.2"/><circle cx="500.3" cy="576.7" r="2.2"/><circle cx="500.3" cy="580" r="2.2"/><circle cx="500.3" cy="583.3" r="2.2"/></g>
<g fill="#c8ff30"><circle cx="500.3" cy="567.3" r="2.2"/><circle cx="500.3" cy="573.3" r="2.2"/><circle cx="500.3" cy="596" r="2.2"/><circle cx="500.3" cy="649.3" r="2.2"/><circle cx="500.3" cy="663.3" r="2.2"/><circle cx="500.3" cy="666.3" r="2.2"/><circle cx="500.3" cy="669.3" r="2.2"/></g>
<g fill="#f0f000"><circle cx="500.3" cy="603.3" r="2.2"/><circle cx="500.3" cy="607.3" r="2.2"/></g>
<circle cx="500.3" cy="610" r="2.2" fill="#ffd000"/>
<g fill="#800000"><circle cx="500.3" cy="725" r="2.3"/><circle cx="500.3" cy="727.5" r="2.3"/><circle cx="500.3" cy="730" r="2.3"/><circle cx="500.3" cy="788.3" r="2.2"/><circle cx="500.3" cy="806" r="2.3"/><circle cx="500.3" cy="810" r="2.3"/><circle cx="500.3" cy="813.3" r="2.3"/><circle cx="500.3" cy="816.7" r="2.3"/><circle cx="500.3" cy="821.7" r="2.3"/></g>
<!-- 6.8 h column -->
<g fill="#000090"><circle cx="602.3" cy="561" r="2"/><circle cx="602.3" cy="707.7" r="2"/><circle cx="602.3" cy="735.3" r="2"/></g>
<g fill="#0050ff"><circle cx="602.3" cy="591" r="2.1"/></g>
<g fill="#0020ff"><circle cx="602.3" cy="616.7" r="2"/></g>
<g fill="#ff9800"><circle cx="602.3" cy="570.3" r="2"/><circle cx="602.3" cy="673" r="2"/></g>
<circle cx="602.3" cy="668.7" r="2" fill="#ff2000"/>
<circle cx="602.3" cy="648.7" r="2.2" fill="#c0ff30"/>
<g fill="#e0f000"><circle cx="602.3" cy="753.7" r="2.2"/><circle cx="602.3" cy="887.7" r="2"/></g>
<g fill="#800000"><circle cx="602.3" cy="597.3" r="2.1"/><circle cx="602.3" cy="717.7" r="2.1"/><circle cx="602.3" cy="722.3" r="2.1"/><circle cx="602.3" cy="739.3" r="2.1"/><circle cx="602.3" cy="777.7" r="2.1"/><circle cx="602.3" cy="799.7" r="2.1"/><circle cx="602.3" cy="854.3" r="2.1"/><circle cx="602.3" cy="863" r="2.1"/></g>
<!-- 11 h column -->
<line x1="819.3" y1="563" x2="819.3" y2="661" stroke="#dc0000" stroke-width="4.6" stroke-linecap="round"/>
<line x1="819.3" y1="544" x2="819.3" y2="560" stroke="#800000" stroke-width="4.6" stroke-linecap="round"/>
<line x1="819.3" y1="726.7" x2="819.3" y2="748.3" stroke="#800000" stroke-width="4.6" stroke-linecap="round"/>
<g fill="#800000"><circle cx="819.3" cy="663.3" r="2.2"/><circle cx="819.3" cy="665.5" r="2.2"/><circle cx="819.3" cy="682.7" r="2.3"/><circle cx="819.3" cy="685.3" r="2.3"/><circle cx="819.3" cy="688.3" r="2.3"/><circle cx="819.3" cy="695.7" r="2.3"/><circle cx="819.3" cy="699" r="2.3"/><circle cx="819.3" cy="703" r="2.3"/><circle cx="819.3" cy="707" r="2.3"/><circle cx="819.3" cy="711" r="2.3"/><circle cx="819.3" cy="715.7" r="2.3"/></g>
<circle cx="874.3" cy="676" r="2" fill="#ffa500"/>
<circle cx="858.3" cy="693.3" r="2.8" fill="#ffb000"/>
<circle cx="860" cy="692.3" r="2.2" fill="#ffb800"/>
<circle cx="850" cy="703.3" r="2" fill="#c8ff30"/>
<circle cx="660.3" cy="745" r="2.2" fill="#3cffba"/>
</g>
<path d="M508.33 540V890M766.67 540V890M1025 540V890M1283.33 540V890M250 656.67H1490M250 773.33H1490" stroke="#b0b0b0" stroke-width="1.11" fill="none"/>
<rect x="250" y="540" width="1240" height="350" fill="none" stroke="#000" stroke-width="1.11"/>
<path d="M245.14 540h4.86M245.14 656.67h4.86M245.14 773.33h4.86M245.14 890h4.86M250 890v4.86M508.33 890v4.86M766.67 890v4.86M1025 890v4.86M1283.33 890v4.86" stroke="#000" stroke-width="1.11" fill="none"/>
<path d="M247.22 866.67h2.78M247.22 843.33h2.78M247.22 820h2.78M247.22 796.67h2.78M247.22 750h2.78M247.22 726.67h2.78M247.22 703.33h2.78M247.22 680h2.78M247.22 633.33h2.78M247.22 610h2.78M247.22 586.67h2.78M247.22 563.33h2.78M301.67 890v2.78M353.33 890v2.78M405 890v2.78M456.67 890v2.78M560 890v2.78M611.67 890v2.78M663.33 890v2.78M715 890v2.78M818.33 890v2.78M870 890v2.78M921.67 890v2.78M973.33 890v2.78M1076.67 890v2.78M1128.33 890v2.78M1180 890v2.78M1231.67 890v2.78M1335 890v2.78M1386.67 890v2.78M1438.33 890v2.78M1490 890v2.78" stroke="#000" stroke-width="0.83" fill="none"/>
<g font-size="30.56" text-anchor="end">
<text x="240.3" y="901">0</text><text x="240.3" y="784.3">1000</text><text x="240.3" y="667.7">2000</text><text x="240.3" y="551">3000</text>
</g>
<g font-size="30.56" text-anchor="middle">
<text x="250" y="922.3">0</text><text x="508.33" y="922.3">5</text><text x="766.67" y="922.3">10</text><text x="1025" y="922.3">15</text><text x="1283.33" y="922.3">20</text>
</g>
<text font-size="30.56" text-anchor="middle" transform="translate(150.5 715) rotate(-90)">RF Distance (km)</text>
<text font-size="30.56" text-anchor="middle" x="870" y="957.5">Time (hours)</text>

<!-- BOTTOM COLORBAR -->
<rect x="1567.5" y="540" width="17.5" height="350" fill="url(#gj)" stroke="#000" stroke-width="1.11"/>
<path d="M1585 617.78h4.86M1585 715h4.86M1585 812.22h4.86" stroke="#000" stroke-width="1.11"/>
<g font-size="30.56">
<text x="1595.2" y="628.8">500</text><text x="1595.2" y="726">0</text><text x="1595.2" y="823.2">−500</text>
</g>
<text font-size="30.56" text-anchor="middle" transform="translate(1705 715) rotate(-90)">Doppler (m/s)</text>
</svg>
</body></html>
